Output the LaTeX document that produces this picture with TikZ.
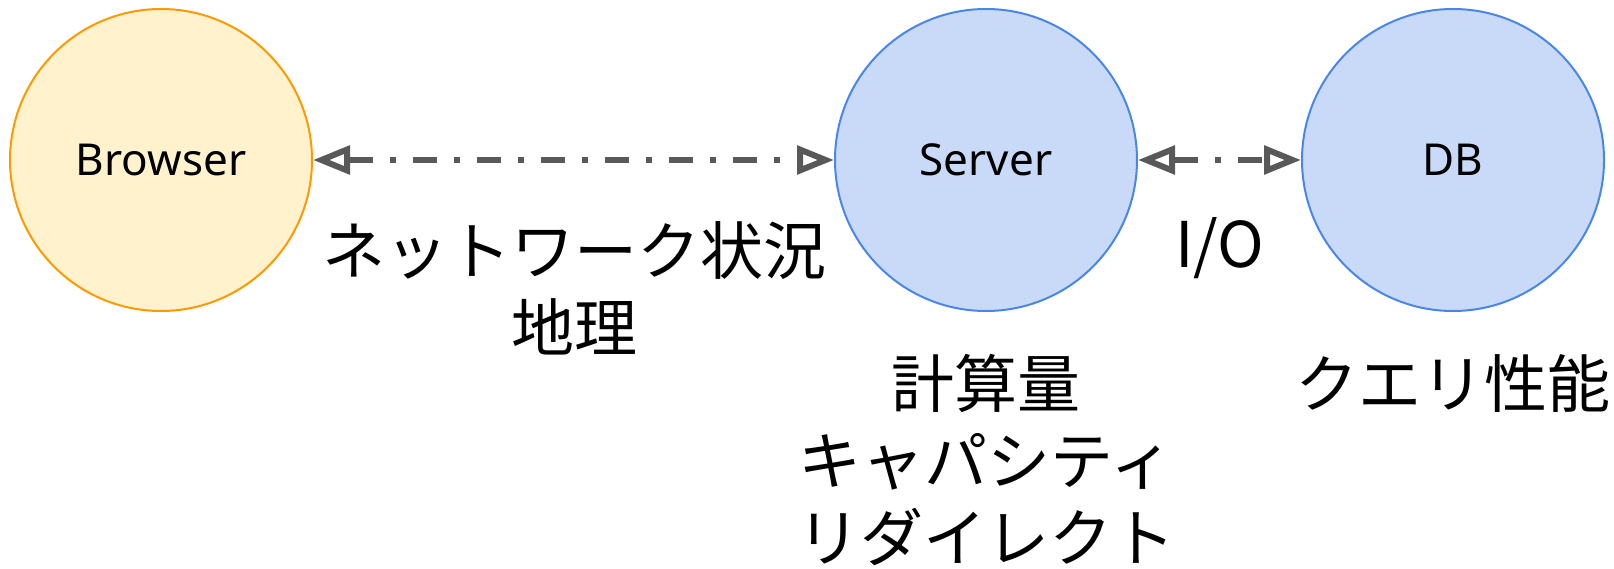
\documentclass[tikz,border=0pt]{standalone}
\usepackage{fontspec}
\setmainfont{Noto Sans}
\newfontfamily\jp{Noto Sans CJK JP}
\usetikzlibrary{arrows.meta}
\definecolor{byel}{HTML}{FFF2CC}
\definecolor{borange}{HTML}{FF9900}
\definecolor{bblue}{HTML}{C9DAF8}
\definecolor{bstroke}{HTML}{4A86E8}
\definecolor{agray}{HTML}{595959}
\begin{document}
\begin{tikzpicture}[x=1pt,y=-1pt,
  ent/.style={circle, minimum size=302pt, inner sep=0pt, line width=2pt, font=\fontsize{44}{52}\selectfont},
  yel/.style={ent, fill=byel, draw=borange},
  blu/.style={ent, fill=bblue, draw=bstroke},
  conn/.style={draw=agray, line width=6pt, dash pattern=on 24pt off 17pt on 6pt off 17pt,
    {Triangle[open,length=37pt,width=28pt]}-{Triangle[open,length=37pt,width=28pt]}},
  lbl/.style={font=\fontsize{63}{77}\selectfont\jp, align=center, inner sep=0pt, anchor=base}]
\useasboundingbox (0,0) rectangle (1614,569);
\node[yel] (browser) at (161,160) {Browser};
\node[blu] (server) at (986,160) {Server};
\node[blu] (db) at (1453,160) {DB};
\draw[conn] (browser) -- (server);
\draw[conn] (server) -- (db);
\node[lbl] (netlbl) at (574,351) {ネットワーク状況\\地理};
\node[lbl] (iolbl) at (1220,268) {I/O};
\node[lbl] (srvlbl) at (986,561) {計算量\\キャパシティ\\リダイレクト};
\node[lbl] (dblbl) at (1453,407) {クエリ性能};
\end{tikzpicture}
\end{document}
